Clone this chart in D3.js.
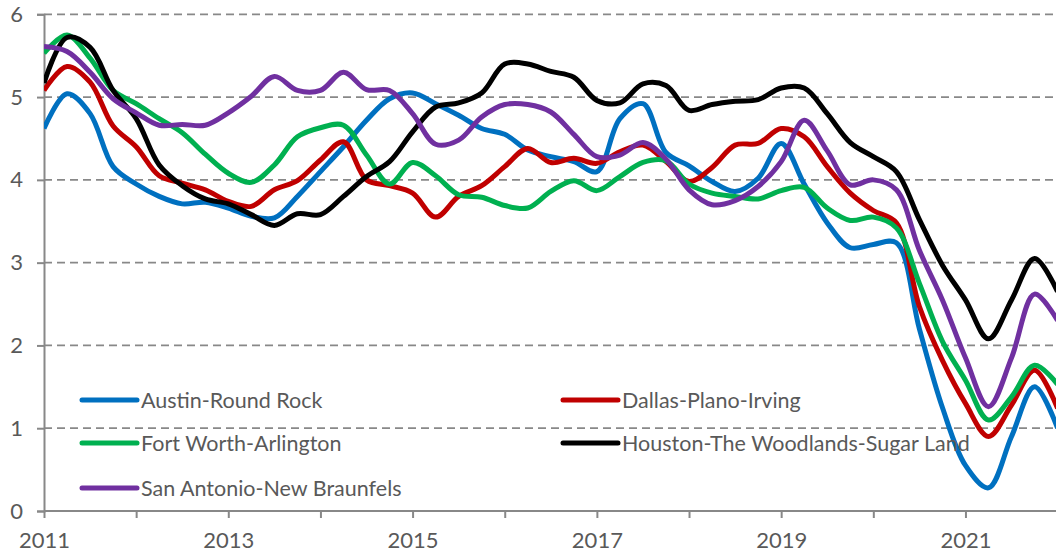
<!DOCTYPE html>
<html>
<head>
<meta charset="utf-8">
<script src="https://cdn.jsdelivr.net/npm/d3@7"></script>
<style>
  body { margin: 0; background: #fff; }
  text { font-family: Lato, "Open Sans", sans-serif; fill: #595959; }
</style>
</head>
<body>
<div id="graph"></div>
<script>
// quarterly observations, 2011 Q1 .. 2022 Q1
var quarters = d3.range(0, 45).map(function(q) { return 2011 + q / 4; });

var austin = [4.62, 5.04, 4.80, 4.16, 3.95, 3.80, 3.71, 3.73, 3.66, 3.56, 3.54, 3.80,
              4.10, 4.40, 4.72, 4.98, 5.05, 4.92, 4.78, 4.62, 4.55, 4.36, 4.28, 4.22,
              4.10, 4.74, 4.92, 4.33, 4.17, 3.98, 3.86, 4.02, 4.44, 3.95, 3.48, 3.18,
              3.22, 3.24, 2.20, 1.25, 0.55, 0.28, 0.90, 1.50, 1.00];
var dallas = [5.08, 5.37, 5.18, 4.65, 4.40, 4.05, 3.96, 3.88, 3.74, 3.68, 3.88, 3.99,
              4.24, 4.46, 4.00, 3.93, 3.84, 3.55, 3.80, 3.93, 4.16, 4.38, 4.21, 4.26,
              4.20, 4.34, 4.42, 4.22, 3.98, 4.15, 4.42, 4.44, 4.62, 4.52, 4.16, 3.84,
              3.63, 3.48, 2.47, 1.82, 1.30, 0.90, 1.28, 1.70, 1.24];
var fortWorth = [5.53, 5.75, 5.47, 5.08, 4.92, 4.74, 4.57, 4.31, 4.08, 3.97, 4.18, 4.52,
                 4.63, 4.66, 4.30, 3.95, 4.21, 4.05, 3.82, 3.79, 3.69, 3.66, 3.86, 3.99,
                 3.87, 4.04, 4.21, 4.23, 3.95, 3.84, 3.80, 3.77, 3.87, 3.91, 3.66, 3.51,
                 3.55, 3.42, 2.75, 2.05, 1.58, 1.10, 1.38, 1.76, 1.53];
var houston = [5.17, 5.72, 5.60, 5.08, 4.74, 4.18, 3.93, 3.77, 3.71, 3.58, 3.45, 3.59,
               3.58, 3.80, 4.04, 4.22, 4.58, 4.88, 4.93, 5.05, 5.40, 5.40, 5.31, 5.24,
               4.96, 4.93, 5.16, 5.14, 4.84, 4.91, 4.95, 4.97, 5.11, 5.11, 4.80, 4.45,
               4.28, 4.10, 3.52, 2.97, 2.55, 2.08, 2.55, 3.05, 2.65];
var sanAntonio = [5.61, 5.55, 5.30, 4.98, 4.81, 4.66, 4.67, 4.66, 4.81, 5.01, 5.25, 5.08,
                  5.08, 5.30, 5.09, 5.08, 4.80, 4.43, 4.48, 4.76, 4.91, 4.91, 4.82, 4.55,
                  4.28, 4.30, 4.45, 4.25, 3.88, 3.70, 3.75, 3.92, 4.22, 4.72, 4.35, 3.94,
                  4.00, 3.88, 3.15, 2.55, 1.85, 1.26, 1.85, 2.62, 2.30];

var seriesNames = ["Austin-Round Rock", "Dallas-Plano-Irving", "Fort Worth-Arlington",
                   "Houston-The Woodlands-Sugar Land", "San Antonio-New Braunfels"];
var seriesColors = ["#0070C0", "#C00000", "#00B050", "#000000", "#7030A0"];
var seriesValues = [austin, dallas, fortWorth, houston, sanAntonio];

var yTicks = [0, 1, 2, 3, 4, 5, 6];
var xTickYears = [2011, 2012, 2013, 2014, 2015, 2016, 2017, 2018, 2019, 2020, 2021];
var xLabelYears = [2011, 2013, 2015, 2017, 2019, 2021];

var width = 1056, height = 554;

var svg = d3.select('#graph')
  .append('svg')
    .attr("width", width)
    .attr("height", height);

var x = d3.scaleLinear().domain([2011, 2022]).range([44, 1057.6]);
var y = d3.scaleLinear().domain([0, 6]).range([511, 14.3]);

// grid lines
svg.append("g")
  .selectAll("line")
  .data(yTicks.filter(function(d) { return d > 0; }))
  .enter().append("line")
    .attr("x1", 44).attr("x2", width)
    .attr("y1", function(d) { return y(d); })
    .attr("y2", function(d) { return y(d); })
    .attr("stroke", "#888")
    .attr("stroke-width", 1.8)
    .attr("stroke-dasharray", "8,5");

// Y axis
var yAxis = svg.append("g")
  .attr("transform", "translate(44,0)")
  .call(d3.axisLeft(y).tickValues(yTicks).tickSize(7).tickPadding(14).tickFormat(d3.format("d")));
yAxis.select(".domain").attr("stroke", "#888").attr("stroke-width", 2);
yAxis.selectAll(".tick line").attr("stroke", "#888").attr("stroke-width", 2);
yAxis.selectAll("text").attr("font-size", 22).attr("font-family", null).attr("fill", null);

// X axis
var xAxis = svg.append("g")
  .attr("transform", "translate(0,511)")
  .call(d3.axisBottom(x).tickValues(xTickYears).tickSize(7).tickPadding(14)
    .tickFormat(function(d) { return xLabelYears.indexOf(d) >= 0 ? d : ""; }));
xAxis.select(".domain").attr("stroke", "#888").attr("stroke-width", 2)
  .attr("d", "M44,0H" + width);
xAxis.selectAll(".tick line").attr("stroke", "#888").attr("stroke-width", 2);
xAxis.selectAll("text").attr("font-size", 22).attr("font-family", null).attr("fill", null);

// lines
var line = d3.line()
  .x(function(d, i) { return x(quarters[i]); })
  .y(function(d) { return y(d); })
  .curve(d3.curveCatmullRom.alpha(0.5));

svg.append("clipPath").attr("id", "clip")
  .append("rect").attr("x", 44).attr("y", 0).attr("width", width - 44).attr("height", 520);

var plot = svg.append("g").attr("clip-path", "url(#clip)");

// legend
var legendPos = [[82, 400], [563, 400], [82, 443], [563, 443], [82, 488]];
var legend = svg.append("g");
seriesNames.forEach(function(name, i) {
  var p = legendPos[i];
  legend.append("line")
    .attr("x1", p[0]).attr("x2", p[0] + 55)
    .attr("y1", p[1]).attr("y2", p[1])
    .attr("stroke", seriesColors[i])
    .attr("stroke-width", 5)
    .attr("stroke-linecap", "round");
  legend.append("text")
    .attr("x", p[0] + 59)
    .attr("y", p[1])
    .attr("dy", "0.35em")
    .attr("font-size", 21.5)
    .text(name);
});

seriesValues.forEach(function(vals, i) {
  plot.append("path")
    .datum(vals)
    .attr("fill", "none")
    .attr("stroke", seriesColors[i])
    .attr("stroke-width", 5)
    .attr("stroke-linejoin", "round")
    .attr("d", line);
});
</script>
</body>
</html>
